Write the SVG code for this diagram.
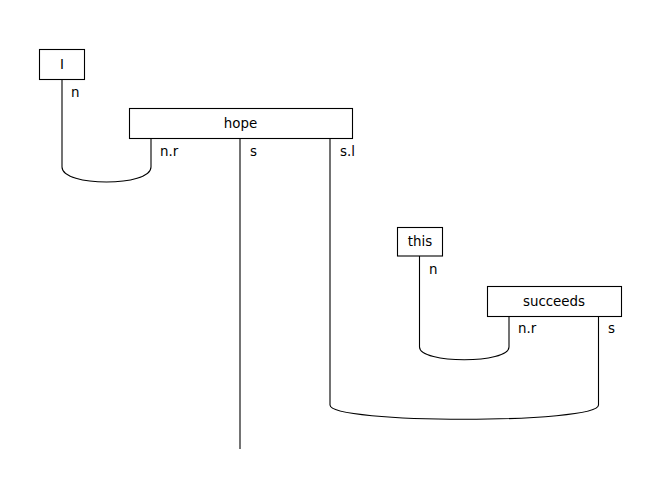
<svg xmlns="http://www.w3.org/2000/svg" width="660" height="499" viewBox="0 0 660 499">
<style>
.box{fill:#fff;stroke:#000;stroke-width:1.1}
.w{fill:none;stroke:#000;stroke-width:1.1}
text{font-family:"DejaVu Sans",sans-serif;font-size:13.4px;fill:#000}
.c{text-anchor:middle}
</style>
<rect width="660" height="499" fill="#fff"/>
<g id="connectors">
<path class="w" d="M62,79.5 V167 C62,187 151,187 151,167 V138.5"/>
<path class="w" d="M240,138.5 V449"/>
<path class="w" d="M330,138.5 V405 C330,424 598.5,424 598.5,405 V316.5"/>
<path class="w" d="M419.5,256 V347 C419.5,364 509,364 509,347 V316.5"/>
<text x="71" y="97">n</text>
<text x="160" y="156">n.r</text>
<text x="250" y="156">s</text>
<text x="340" y="156">s.l</text>
<text x="429" y="274">n</text>
<text x="518" y="333">n.r</text>
<text x="608" y="333">s</text>
</g>
<g id="node-I">
<rect class="box" x="39.5" y="49.5" width="45" height="30"/>
<text class="c" x="62" y="69">I</text>
</g>
<g id="node-hope">
<rect class="box" x="129.5" y="108.5" width="223" height="30"/>
<text class="c" x="240.5" y="128">hope</text>
</g>
<g id="node-this">
<rect class="box" x="397.5" y="227.5" width="45" height="28.5"/>
<text class="c" x="420" y="246">this</text>
</g>
<g id="node-succeeds">
<rect class="box" x="487.5" y="286.5" width="134" height="30"/>
<text class="c" x="554" y="306">succeeds</text>
</g>
</svg>
